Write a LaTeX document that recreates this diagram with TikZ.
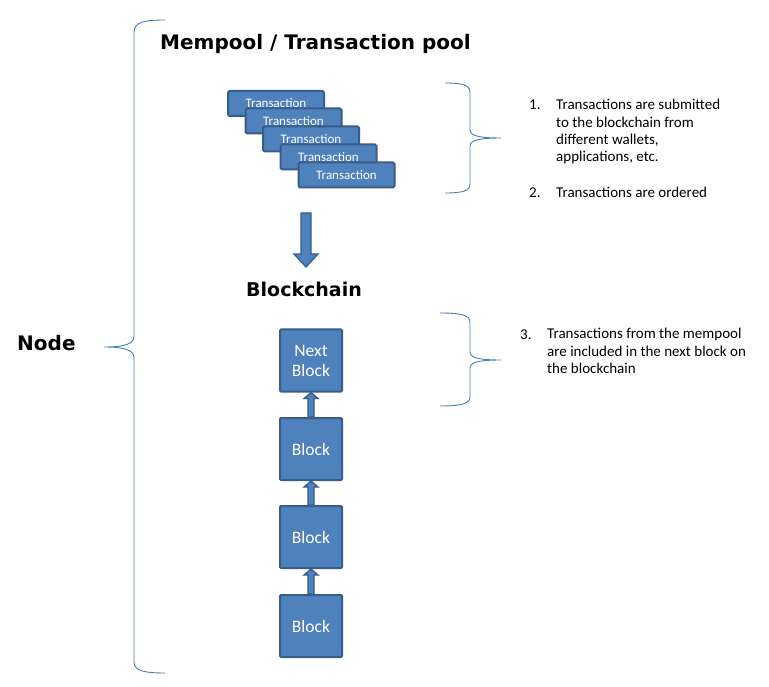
\documentclass[tikz,border=0pt]{standalone}
\usepackage{fontspec}
\setmainfont{Carlito}
\newfontfamily\titlefont{DejaVu Sans}
\usetikzlibrary{calc}
\definecolor{boxfill}{HTML}{4F81BD}
\definecolor{boxline}{HTML}{385D8A}
\definecolor{bracecol}{HTML}{4A7EBB}
\begin{document}
\begin{tikzpicture}[x=1pt,y=-1pt,
  txbox/.style={draw=boxline,fill=boxfill,line width=2pt,rounded corners=1.5pt,
    minimum width=96pt,minimum height=25pt,inner sep=0pt,text=white,
    font=\fontsize{13}{15}\selectfont},
  blk/.style={draw=boxline,fill=boxfill,line width=2pt,rounded corners=1pt,
    minimum width=62pt,minimum height=62pt,inner sep=0pt,text=white,align=center,
    font=\fontsize{17.5}{20}\selectfont},
  barrow/.style={draw=boxline,fill=boxfill,line width=1.3pt,line join=miter},
  brace/.style={draw=bracecol,line width=0.9pt},
  title/.style={font=\titlefont\bfseries\fontsize{20}{24}\selectfont,inner sep=0pt},
  note/.style={font=\fontsize{15}{17.4}\selectfont,inner sep=0pt,align=left}]
\useasboundingbox[fill=white] (0,0) rectangle (769,687);

% titles
\node[title,anchor=base west] (mem) at (160,50) {Mempool / Transaction pool};
\node[title,anchor=base,font=\titlefont\bfseries\fontsize{19}{23}\selectfont] (bc) at (304,297) {Blockchain};
\node[title,anchor=base west] (nodet) at (17,351) {Node};

% transaction stack
\node[txbox] (t1) at (276,103.5) {Transaction};
\node[txbox] (t2) at (293.5,121) {Transaction};
\node[txbox] (t3) at (311,139) {Transaction};
\node[txbox] (t4) at (328.5,157) {Transaction};
\node[txbox] (t5) at (346.5,175) {Transaction};

% big down arrow
\coordinate (aTop) at (306,213);
\coordinate (aTip) at (306,267);
\draw[barrow] ($(aTop)+(-5,0)$) -- ($(aTip)+(-5,-13)$) -- ($(aTip)+(-12,-13)$) -- (aTip)
  -- ($(aTip)+(12,-13)$) -- ($(aTip)+(5,-13)$) -- ($(aTop)+(5,0)$) -- cycle;

% blocks
\node[blk] (nb) at (311,360.5) {Next\\Block};
\node[blk] (b3) at (311,449) {Block};
\node[blk] (b2) at (311,537) {Block};
\node[blk] (b1) at (311,626) {Block};

\foreach \lo/\hi in {b3/nb,b2/b3,b1/b2}{
  \draw[barrow] ($(\lo.north)+(-3,0)$) -- ($(\hi.south)+(-3,6)$) -- ($(\hi.south)+(-7,6)$)
    -- (\hi.south) -- ($(\hi.south)+(7,6)$) -- ($(\hi.south)+(3,6)$) -- ($(\lo.north)+(3,0)$) -- cycle;
}

% left brace
\coordinate (lbTop) at (165,20);
\coordinate (lbTip) at (104,347);
\coordinate (lbBot) at (165,673);
\draw[brace] (lbTop) .. controls (145,20) and (134,22) .. (134,32) -- (134,336)
  .. controls (134,344) and (125,347) .. (lbTip)
  .. controls (125,347) and (134,350) .. (134,358) -- (134,662)
  .. controls (134,671) and (145,673) .. (lbBot);

% right brace 1
\coordinate (rb1Top) at (445,83);
\coordinate (rb1Tip) at (501,138);
\coordinate (rb1Bot) at (445,193);
\draw[brace] (rb1Top) .. controls (462,83) and (470,85) .. (470,92) -- (470,130)
  .. controls (470,136) and (480,138) .. (rb1Tip)
  .. controls (480,138) and (470,140) .. (470,146) -- (470,184)
  .. controls (470,191) and (462,193) .. (rb1Bot);

% right brace 2
\coordinate (rb2Top) at (440,313);
\coordinate (rb2Tip) at (501,360);
\coordinate (rb2Bot) at (440,406);
\draw[brace] (rb2Top) .. controls (460,313) and (470,315) .. (470,322) -- (470,352)
  .. controls (470,358) and (480,360) .. (rb2Tip)
  .. controls (480,360) and (470,362) .. (470,368) -- (470,397)
  .. controls (470,404) and (460,406) .. (rb2Bot);

% notes
\node[note,anchor=base west] (n1num) at (529,110) {1.};
\node[note,anchor=north west] (n1) at ($(n1num.base west)+(27,-11)$) {Transactions are submitted\\to the blockchain from\\different wallets,\\applications, etc.};
\node[note,anchor=base west] (n2num) at (529,198) {2.};
\node[note,anchor=base west] (n2) at (556,198) {Transactions are ordered};
\node[note,anchor=base west] (n3num) at (520,339) {3.};
\node[note,anchor=north west] (n3) at ($(n3num.base west)+(27,-11)$) {Transactions from the mempool\\are included in the next block on\\the blockchain};
\end{tikzpicture}
\end{document}
